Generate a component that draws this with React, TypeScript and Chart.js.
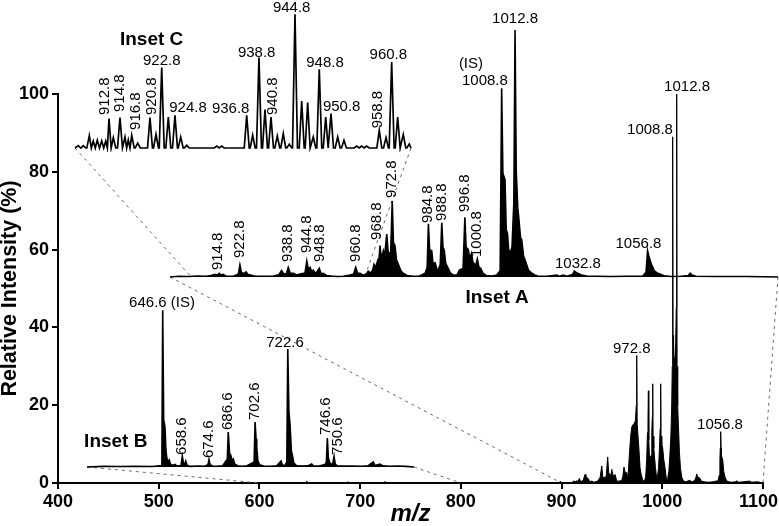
import React, { useEffect, useRef } from 'react';
import { Chart, registerables } from 'chart.js';

Chart.register(...registerables);

const FONT = '"Liberation Sans", Arial, Helvetica, sans-serif';

// ---------------- DATA ----------------
// main spectrum (m/z, relative intensity %)
const mainProfile: [number, number][] = [
  [600, 0], [646.5, 0], [647, 0.5], [647.5, 0], [687.5, 0], [688, 0.3], [688.5, 0], [724, 0], [724.5, 0.4], [725, 0],
  [880, 0], [898, 0], [898.5, 0.4], [899, 0], [910, 0], [912, 0.5], [914, 0.3], [915, 0.6], [916.5, 0.4], [917.6, 1.2],
  [919, 0.3], [921.5, 0.7], [923.3, 2.2], [924.2, 1], [925, 1.4], [926.6, 1.1], [928, 0.3], [930, 0.5], [932, 0.2],
  [936, 0.5], [938.3, 1.5], [939.9, 4.4], [941, 1.6], [942, 1.2], [943.1, 1.6], [944.2, 1.4], [945.8, 6.7], [946.8, 2.6],
  [947.8, 2.3], [948.7, 1.5], [949.8, 3.5], [950.8, 2.4], [951.7, 1.5], [953.1, 2.2], [954.5, 0.8], [956, 0.4], [958, 0.6],
  [959.5, 0.5], [960.8, 1.6], [962, 4.1], [963.2, 2.6], [964.7, 2.7], [965.5, 1.2], [966.3, 3], [967.5, 8], [968.6, 12],
  [969.7, 14.4], [970.8, 15], [972, 15.2], [973.3, 16], [974.2, 20], [974.6, 32.8], [975.1, 15], [976.2, 11], [977, 8],
  [977.9, 4], [979, 2.3], [980.5, 0.8], [982, 0.4],
  [983.5, 1.5], [984.5, 6], [985.3, 13], [985.8, 16], [986.2, 23.7], [986.6, 11], [987.2, 7], [987.8, 4.7], [988.8, 7],
  [989.6, 13], [990.1, 17], [990.5, 25.5], [990.9, 12], [991.6, 9], [992.2, 7], [993.2, 4], [994.3, 1.5],
  [995, 1], [996.3, 4], [997.2, 9], [997.9, 14], [998.4, 25.5], [998.8, 12], [999.5, 10], [1000.4, 9], [1001.5, 6],
  [1002.7, 4], [1003.8, 1.5], [1004.8, 0.8],
  [1005.5, 1.5], [1006.5, 3], [1007.5, 7], [1008.5, 12], [1009.3, 19], [1009.9, 30], [1010.3, 89], [1010.7, 38],
  [1011.2, 33], [1012.3, 31], [1013.3, 36], [1013.9, 45], [1014.3, 100], [1014.7, 30], [1015.3, 20], [1016, 15],
  [1017, 8], [1018, 4], [1019.3, 1.5], [1021, 0.6], [1023, 0.3],
  [1027.5, 0.7], [1029, 0.3], [1031, 0.5], [1033, 1], [1034.2, 2.3], [1035.5, 1.5], [1037.5, 1.2], [1039, 0.4],
  [1042, 0.3], [1046, 0.2], [1050, 0.3],
  [1055.5, 0.6], [1056.5, 2], [1057.2, 6], [1057.6, 9], [1058, 13.2], [1058.4, 9], [1058.8, 7], [1060, 6], [1061, 3],
  [1062.3, 1.5], [1064, 0.5], [1068, 0.2], [1073, 0.3], [1074, 0.6], [1075, 0.2], [1080, 0.3], [1087, 0.5],
  [1088, 0.2], [1095, 0.3], [1100, 0],
];

// Inset A (m/z 900-1100, 1012.8 = 100)
const insetAProfile: [number, number][] = [
  [900, 0], [903, 0.3], [906, 0.2], [909, 0.4], [912, 0.3], [913.5, 0.6], [914.8, 1.1], [915.5, 0.7], [916.2, 1.5],
  [916.8, 0.8], [917.5, 1.1], [918.5, 0.3], [921, 0.4], [922.5, 1.2], [923, 4.9], [923.5, 1.8], [924.3, 1.4], [925, 2.1],
  [925.7, 1], [926.5, 0.8], [928, 0.3], [931, 0.3], [934, 0.4], [935.8, 0.9], [936.7, 2.6], [937.4, 1.2], [938.3, 1.4],
  [938.9, 3.9], [939.5, 1.6], [940.6, 1.5], [941.6, 0.8], [942.8, 1.2], [944.4, 1.6], [945, 6.5], [945.5, 3.2],
  [946.1, 3.9], [946.6, 2.2], [947.1, 2.8], [948, 1.4], [949.1, 3.5], [949.7, 1.3], [950.4, 1.5], [951.5, 0.6],
  [953, 0.4], [955, 0.2], [957, 0.3], [959.2, 0.8], [960.4, 1.2], [961.1, 3.9], [961.7, 1.6], [962.5, 1.5],
  [963.5, 0.7], [964.6, 1.2], [965.2, 2.4], [966, 1.6], [966.7, 3], [967.1, 5.1], [967.6, 3.8], [968.4, 7],
  [968.7, 6.5], [969.1, 12.7], [969.5, 7.5], [970.2, 10.6], [970.6, 8.5], [971.3, 17.4], [971.8, 9.5], [972.6, 10],
  [973.1, 30.8], [973.5, 14], [974, 12.7], [974.5, 7], [975.1, 5.1], [976, 2.4], [976.7, 1.5], [978, 0.6], [980, 0.3],
  [982, 0.4], [982.8, 0.8], [984, 1.6], [984.6, 4], [985, 21.5], [985.4, 11], [986.1, 10.6], [986.5, 5.5], [987.2, 5.8],
  [988, 2.2], [988.9, 5], [989.4, 22], [989.8, 12], [990.2, 10.9], [990.7, 5.5], [991.3, 4], [992.3, 1.5], [993.5, 0.6],
  [994.5, 1], [995.2, 2.8], [996.4, 3.5], [997, 24.2], [997.4, 12], [998.1, 11.2], [998.6, 7.5], [999.2, 9.6],
  [999.6, 6], [1000, 5.5], [1000.5, 4.5], [1001.1, 7.3], [1001.6, 4], [1002.2, 3.5], [1003, 1.4], [1004, 0.6],
  [1006, 0.4], [1007.5, 0.8], [1008.6, 2.5], [1009.1, 76.4], [1009.5, 42], [1010.2, 39.3], [1010.6, 19], [1011, 17.7],
  [1011.4, 11], [1011.8, 9.6], [1012.5, 12], [1013.1, 30], [1013.5, 100], [1013.9, 42.5], [1014.4, 28], [1014.8, 23],
  [1015.3, 16], [1015.7, 15], [1016.3, 8.5], [1016.8, 6.9], [1017.9, 2.8], [1019, 1.5], [1020, 0.8], [1021, 0.4],
  [1024, 0.3], [1027.2, 0.8], [1028, 0.3], [1029.4, 0.8], [1030.5, 0.3], [1032.4, 1], [1033, 2.4], [1033.6, 1.8],
  [1034.1, 1.5], [1035.4, 0.8], [1037, 0.4], [1040, 0.3], [1045, 0.2], [1050, 0.3], [1055.5, 0.3], [1056.6, 2],
  [1057.1, 10.6], [1057.5, 8.5], [1057.9, 6.9], [1058.4, 5], [1058.8, 4], [1059.3, 2.5], [1059.9, 2], [1060.5, 1.5],
  [1061.2, 1.2], [1062.5, 0.5], [1065, 0.2], [1068, 0.3], [1070.5, 0.6], [1071.1, 1.5], [1071.7, 0.8], [1073, 0.3],
  [1080, 0.2], [1090, 0.2], [1100, 0],
];

// Inset B (m/z 600-800, 646.6 = 100)
const insetBProfile: [number, number][] = [
  [600, 0], [610, 0.4], [620, 0.3], [630, 0.5], [640, 0.3], [645.8, 1], [646.3, 100], [646.9, 30], [647.7, 25.5],
  [648.2, 12], [648.7, 6.4], [649.5, 3], [650.3, 4.5], [651, 2], [652, 1], [653.8, 1.7], [655, 0.6], [657.5, 1],
  [658.3, 6.8], [659, 2.5], [659.8, 2], [660.4, 3.8], [661.2, 1.2], [663, 0.4], [668, 0.6], [672, 0.5], [674, 1.5],
  [674.6, 4.7], [675.3, 1.5], [677, 0.5], [680, 0.6], [683, 0.8], [685, 3.8], [685.8, 5], [686.4, 22.3], [687.2, 8.5],
  [687.9, 7.7], [688.7, 4], [689.5, 5.1], [690.3, 2], [692, 0.8], [695, 0.5], [698, 0.8], [700.7, 2.4], [702.2, 3],
  [702.8, 28.7], [703.4, 18], [703.8, 12.8], [704.5, 4], [705.5, 1.5], [708, 0.6], [712, 0.5], [716, 0.8],
  [718.7, 3.8], [719.5, 1.2], [721, 1], [722.2, 3], [722.8, 75.3], [723.5, 35], [724.2, 26.8], [725, 10],
  [725.6, 7.7], [726.5, 2.5], [728, 1], [731, 0.6], [735, 0.7], [737.4, 1.9], [738.5, 0.6], [742, 0.6], [745.5, 1.5],
  [746.4, 3], [747, 18.5], [747.6, 6], [748.2, 3.8], [749, 1.5], [750.4, 2.5], [751.1, 6.8], [751.8, 2], [753, 0.8],
  [757, 0.6], [762, 0.6], [768, 0.5], [772, 0.8], [775.1, 3.2], [776, 1], [779.2, 1.9], [781, 0.7], [785, 0.5],
  [790, 0.6], [795, 0.4], [800, 0],
];

// Inset C (m/z 907-964, 944.8 = 100), centroid peaks
const insetCPeaks: [number, number][] = [
  [907.56, 1.8], [908.41, 1.8], [909.43, 9.3], [910.1, 5.2], [910.78, 5.8], [911.53, 5.2], [912.21, 5.2],
  [912.77, 22], [913.5, 7.8], [914.63, 22.7], [915.48, 8.2], [916.04, 6], [916.62, 9.5], [917.64, 3.7],
  [919.72, 22.7], [920.74, 10.2], [921.71, 60.1], [922.83, 23.2], [923.96, 24.5], [924.93, 8.2], [925.95, 2],
  [931.04, 1.5], [931.89, 1.5], [936.13, 24.5], [937.14, 9.5], [938.21, 67.6], [939.23, 28.7], [940.25, 23.2],
  [941.32, 9], [942.33, 10.8], [943.35, 2.8], [944.32, 100], [945.46, 35.2], [946.47, 34], [947.42, 8.2],
  [948.44, 58.9], [949.53, 23.2], [950.43, 25.7], [951.56, 8.2], [952.63, 5.8], [954.79, 1.5], [955.63, 1.5],
  [956.48, 1.5], [958.62, 13.2], [959.76, 7.8], [960.72, 64.3], [961.74, 23.2], [962.69, 10.2], [963.71, 3],
];

// tick values of the main spectrum
const xTicks = [400, 500, 600, 700, 800, 900, 1000, 1100];
const yTicks = [0, 20, 40, 60, 80, 100];

// labels: [text, m/z anchor, intensity anchor, rotated]
type Lbl = [string, number, number, boolean];
const mainLabels: Lbl[] = [
  ['972.8', 969.7, 33.3, false],
  ['1056.8', 1057.3, 13.8, false],
  ['1008.8', 987.8, 89.7, false],
  ['1012.8', 1024.6, 100.8, false],
];
const insetALabels: Lbl[] = [
  ['914.8', 915.8, 2.8, true], ['922.8', 923.0, 7.7, true], ['938.8', 938.7, 6.1, true],
  ['944.8', 945.0, 9.7, true], ['948.8', 949.3, 6.1, true], ['960.8', 961.1, 6.1, true],
  ['968.8', 968.0, 15, true], ['972.8', 973.0, 32, true], ['984.8', 984.9, 21.9, true],
  ['988.8', 989.4, 22.7, true], ['996.8', 997.0, 26.3, true], ['1000.8', 1001.1, 8.1, true],
  ['(IS)', 999.0, 84.6, false], ['1008.8', 1003.6, 77.7, false], ['1012.8', 1013.5, 103, false],
  ['1032.8', 1034.2, 3.6, false], ['1056.8', 1054.1, 11.7, false],
];
const insetBLabels: Lbl[] = [
  ['646.6 (IS)', 645.9, 102, false], ['658.6', 658.1, 7.7, true], ['674.6', 674.6, 5.7, true],
  ['686.6', 686.2, 23.6, true], ['702.6', 702.8, 30, true], ['722.6', 721.1, 76.6, false],
  ['746.6', 746.2, 20.4, true], ['750.6', 753.3, 7.7, true],
];
const insetCLabels: Lbl[] = [
  ['912.8', 912.09, 24.7, true], ['914.8', 914.63, 26.9, true], ['916.8', 917.35, 13.5, true],
  ['920.8', 920.01, 24.7, true], ['922.8', 921.71, 62.1, false], ['924.8', 926.17, 26.9, false],
  ['936.8', 933.41, 26.2, false], ['938.8', 937.82, 68.1, false], ['940.8', 940.64, 24.7, true],
  ['944.8', 943.76, 101.7, false], ['948.8', 949.41, 60.6, false], ['950.8', 952.24, 27.7, false],
  ['958.8', 958.45, 14.7, true], ['960.8', 960.15, 66.9, false],
];
// inset titles: [text, m/z anchor, intensity anchor]
const insetATitle: [string, number, number] = ['Inset A', 1007.6, -10.5];
const insetBTitle: [string, number, number] = ['Inset B', 617.6, 13];
const insetCTitle: [string, number, number] = ['Inset C', 920.0, 77];

// ---------------- LAYOUT ----------------
const W = 779, H = 526;
const PAD = 14;
type Box = { left: number; right: number; top: number; bottom: number; baseline: number; pxPerUnit: number; xMin: number; xMax: number };
const BOX_A: Box = { left: 170, right: 778, top: 5, bottom: 312, baseline: 277, pxPerUnit: 2.47, xMin: 900, xMax: 1100 };
const BOX_B: Box = { left: 87, right: 414, top: 285, bottom: 475, baseline: 467, pxPerUnit: 1.567, xMin: 600, xMax: 800 };
const BOX_C: Box = { left: 75, right: 411, top: 0, bottom: 152, baseline: 148, pxPerUnit: 1.337, xMin: 907, xMax: 964 };

const toPts = (arr: [number, number][]) => arr.map(([x, y]) => ({ x, y }));

function sticks(peaks: [number, number][], half: number, xMin: number, xMax: number) {
  const pts: { x: number; y: number }[] = [{ x: xMin, y: 0 }];
  peaks.forEach(([m, h], i) => {
    const prev = i > 0 ? peaks[i - 1][0] : -Infinity;
    const next = i < peaks.length - 1 ? peaks[i + 1][0] : Infinity;
    const wl = Math.min(half, (m - prev) / 2);
    const wr = Math.min(half, (next - m) / 2);
    pts.push({ x: Math.max(xMin, m - wl), y: 0 }, { x: m, y: h }, { x: Math.min(xMax, m + wr), y: 0 });
  });
  pts.push({ x: xMax, y: 0 });
  return pts;
}

function labelPlugin(labels: Lbl[], title?: [string, number, number]) {
  return {
    id: 'peakLabels',
    afterDatasetsDraw(chart: any) {
      const { ctx } = chart;
      const xs = chart.scales.x, ys = chart.scales.y;
      ctx.save();
      ctx.fillStyle = '#000';
      ctx.font = `15px ${FONT}`;
      labels.forEach(([t, m, v, rot]) => {
        const px = xs.getPixelForValue(m), py = ys.getPixelForValue(v);
        if (rot) {
          ctx.save();
          ctx.translate(px, py);
          ctx.rotate(-Math.PI / 2);
          ctx.textAlign = 'left';
          ctx.textBaseline = 'middle';
          ctx.fillText(t, 0, 0);
          ctx.restore();
        } else {
          ctx.textAlign = 'center';
          ctx.textBaseline = 'alphabetic';
          ctx.fillText(t, px, py);
        }
      });
      if (title) {
        ctx.font = `bold 19px ${FONT}`;
        ctx.textAlign = 'center';
        ctx.textBaseline = 'alphabetic';
        ctx.fillText(title[0], xs.getPixelForValue(title[1]), ys.getPixelForValue(title[2]));
      }
      ctx.restore();
    },
  };
}

const connectorPlugin = {
  id: 'connectors',
  beforeDatasetsDraw(chart: any) {
    const { ctx } = chart;
    const xs = chart.scales.x, ys = chart.scales.y;
    const y0 = ys.getPixelForValue(0);
    const aPx = (m: number) => BOX_A.left + ((m - BOX_A.xMin) / (BOX_A.xMax - BOX_A.xMin)) * (BOX_A.right - BOX_A.left);
    const segs: [number, number, number, number][] = [
      [BOX_A.left, BOX_A.baseline, xs.getPixelForValue(BOX_A.xMin), y0],
      [BOX_A.right, BOX_A.baseline, xs.getPixelForValue(BOX_A.xMax), y0],
      [BOX_B.left, BOX_B.baseline, xs.getPixelForValue(BOX_B.xMin), y0],
      [BOX_B.right, BOX_B.baseline, xs.getPixelForValue(BOX_B.xMax), y0],
      [BOX_C.left, BOX_C.baseline, aPx(BOX_C.xMin), BOX_A.baseline],
      [BOX_C.right, BOX_C.baseline, aPx(BOX_C.xMax), BOX_A.baseline],
    ];
    ctx.save();
    ctx.strokeStyle = '#6a6a6a';
    ctx.lineWidth = 1;
    ctx.setLineDash([3, 4]);
    segs.forEach(([x1, y1, x2, y2]) => {
      ctx.beginPath();
      ctx.moveTo(x1, y1);
      ctx.lineTo(x2, y2);
      ctx.stroke();
    });
    ctx.restore();
  },
};

function insetConfig(b: Box, points: { x: number; y: number }[], fill: boolean, lw: number, labels: Lbl[], title: [string, number, number]): any {
  return {
    type: 'line',
    data: {
      datasets: [{
        data: points, borderColor: '#000', backgroundColor: '#000', borderWidth: lw,
        pointRadius: 0, tension: 0, fill: fill ? 'origin' : false, clip: false,
      }],
    },
    options: {
      animation: false, responsive: false, devicePixelRatio: 1, events: [],
      layout: { padding: { left: PAD, right: PAD, top: 0, bottom: 0 } },
      plugins: { legend: { display: false }, tooltip: { enabled: false } },
      scales: {
        x: { type: 'linear', display: false, min: b.xMin, max: b.xMax },
        y: { type: 'linear', display: false, min: -(b.bottom - b.baseline) / b.pxPerUnit, max: (b.baseline - b.top) / b.pxPerUnit },
      },
    },
    plugins: [labelPlugin(labels, title)],
  };
}

function mainConfig(): any {
  const tickFont = { size: 18, weight: 'bold' as const, family: FONT };
  const axisCommon = {
    grid: { display: true, drawOnChartArea: false, drawTicks: true, tickLength: 6, color: '#000', lineWidth: 2 },
    border: { display: true, color: '#000', width: 2 },
  };
  const lastX = xTicks[xTicks.length - 1];
  return {
    type: 'line',
    data: {
      datasets: [{
        data: toPts(mainProfile), borderColor: '#000', backgroundColor: '#000', borderWidth: 1,
        pointRadius: 0, tension: 0, fill: 'origin', clip: false,
      }],
    },
    options: {
      animation: false, responsive: false, devicePixelRatio: 1, events: [],
      layout: { padding: { top: 94, right: 16, left: 0, bottom: 0 } },
      plugins: { legend: { display: false }, tooltip: { enabled: false } },
      scales: {
        x: {
          type: 'linear', min: xTicks[0], max: lastX, ...axisCommon,
          afterBuildTicks: (s: any) => { s.ticks = xTicks.map((v) => ({ value: v })); },
          ticks: {
            font: tickFont, color: '#000', padding: 2, maxRotation: 0,
            // the last label is kept inside the canvas by a trailing en space
            callback: (v: any) => (v === lastX ? `${v}\u2002` : String(v)),
          },
          title: { display: true, text: 'm/z', color: '#000', font: { size: 24, weight: 'bold', style: 'italic', family: FONT, lineHeight: 1 }, padding: 0 },
          afterFit: (s: any) => { s.height = 43; s.paddingRight = 0; s.paddingLeft = 0; },
        },
        y: {
          type: 'linear', min: yTicks[0], max: yTicks[yTicks.length - 1], ...axisCommon,
          afterBuildTicks: (s: any) => { s.ticks = yTicks.map((v) => ({ value: v })); },
          ticks: { font: tickFont, color: '#000', padding: 3, callback: (v: any) => String(v) },
          title: { display: true, text: 'Relative Intensity (%)', color: '#000', font: { size: 21.5, weight: 'bold', family: FONT, lineHeight: 0.9 }, padding: 0 },
          afterFit: (s: any) => { s.width = 58; s.paddingTop = 0; s.paddingBottom = 0; },
        },
      },
    },
    plugins: [connectorPlugin, labelPlugin(mainLabels)],
  };
}

export default function App() {
  const mainRef = useRef<HTMLCanvasElement>(null);
  const aRef = useRef<HTMLCanvasElement>(null);
  const bRef = useRef<HTMLCanvasElement>(null);
  const cRef = useRef<HTMLCanvasElement>(null);

  useEffect(() => {
    document.body.style.margin = '0';
    Chart.defaults.font.family = FONT;
    Chart.defaults.color = '#000';
    const charts = [
      new Chart(mainRef.current!, mainConfig()),
      new Chart(aRef.current!, insetConfig(BOX_A, toPts(insetAProfile), true, 1.6, insetALabels, insetATitle)),
      new Chart(bRef.current!, insetConfig(BOX_B, toPts(insetBProfile), true, 1.6, insetBLabels, insetBTitle)),
      new Chart(cRef.current!, insetConfig(BOX_C, sticks(insetCPeaks, 0.42, BOX_C.xMin, BOX_C.xMax), false, 1.7, insetCLabels, insetCTitle)),
    ];
    return () => charts.forEach((c) => c.destroy());
  }, []);

  const canvasFor = (b: Box, ref: React.RefObject<HTMLCanvasElement | null>) => (
    <canvas
      ref={ref}
      width={b.right - b.left + 2 * PAD}
      height={b.bottom - b.top}
      style={{ position: 'absolute', left: b.left - PAD, top: b.top }}
    />
  );
  return (
    <div style={{ position: 'relative', width: W, height: H, background: '#fff', overflow: 'hidden' }}>
      <canvas ref={mainRef} width={W} height={H} style={{ position: 'absolute', left: 0, top: 0 }} />
      {canvasFor(BOX_A, aRef)}
      {canvasFor(BOX_B, bRef)}
      {canvasFor(BOX_C, cRef)}
    </div>
  );
}
